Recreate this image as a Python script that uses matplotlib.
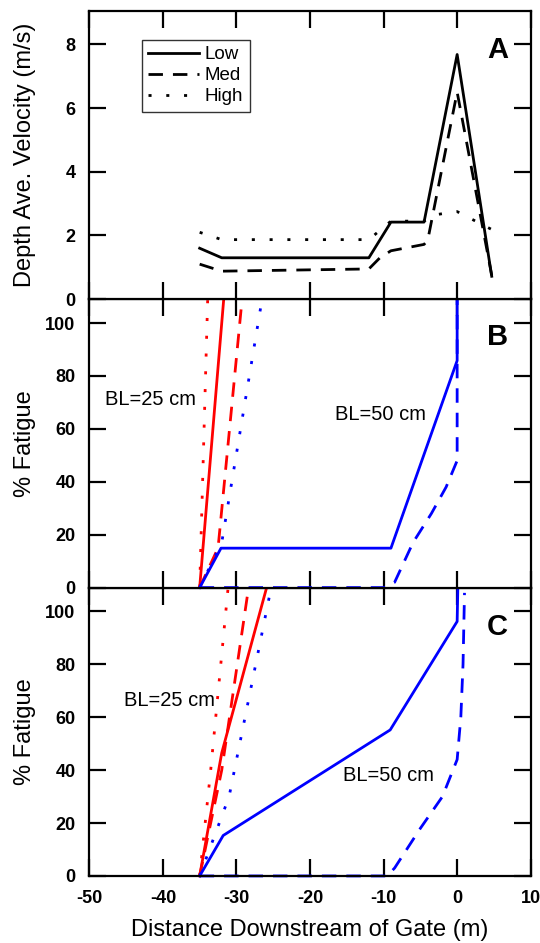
import matplotlib
matplotlib.use("Agg")
import matplotlib.pyplot as plt

plt.rcParams['font.family'] = ['Liberation Sans', 'DejaVu Sans']
plt.rcParams['axes.unicode_minus'] = False

# ---------------- panel A: depth averaged velocity ----------------
x_low = [-35, -32, -12, -9, -4.5, 0, 4.7]
v_low = [1.6, 1.3, 1.3, 2.42, 2.42, 7.68, 0.72]
x_med = [-35, -32, -12, -10.5, -9, -4.5, -4, 0, 4.7]
v_med = [1.1, 0.88, 0.95, 1.3, 1.52, 1.72, 1.85, 6.5, 0.75]
x_high = [-35, -32, -12, -9, -4.5, -3, 0, 4.6]
v_high = [2.1, 1.87, 1.87, 2.45, 2.45, 2.65, 2.75, 2.2]

# ---------------- panel B: % fatigue ----------------
b25_low_x = [-35, -31.7]
b25_low_y = [0, 110]
b25_med_x = [-35, -32.5, -29.2]
b25_med_y = [0, 15, 110]
b25_high_x = [-35, -33.9]
b25_high_y = [0, 110]
b50_low_x = [-35, -32.1, -9.0, 0, 0]
b50_low_y = [0, 14.9, 14.9, 85.8, 110]
b50_med_x = [-35, -10, -8.5, -6, -3.5, -1.5, 0, 0]
b50_med_y = [0, 0, 2, 17, 28, 38, 48, 110]
b50_high_x = [-35, -32, -26.7]
b50_high_y = [0, 17, 106]

# ---------------- panel C: % fatigue ----------------
c25_low_x = [-35, -32.0, -25.8]
c25_low_y = [0, 46.5, 110]
c25_med_x = [-35, -32.0, -28.3]
c25_med_y = [0, 40, 110]
c25_high_x = [-35, -33.5, -31.1]
c25_high_y = [0, 40, 110]
c50_low_x = [-35, -31.8, -9.1, 0, 0.1]
c50_low_y = [0, 15.3, 55.2, 96.2, 110]
c50_med_x = [-35, -9.5, -8.5, -5, -2, 0, 0.5, 0.8, 1.0]
c50_med_y = [0, 0, 3, 18, 30, 44, 60, 80, 107]
c50_high_x = [-35, -31, -25.5]
c50_high_y = [0, 30, 106]

dash = (0, (5.2, 3.6))
dots = (0, (1.1, 5.3))
lw = 2.0

fig = plt.figure(figsize=(5.4, 9.43), dpi=100)
L, W, H = 0.1654, 0.8174, 0.3058
axC = fig.add_axes([L, 0.0711, W, H])
axB = fig.add_axes([L, 0.0711 + H, W, H])
axA = fig.add_axes([L, 0.0711 + 2 * H, W, H])

for ax in (axA, axB, axC):
    ax.set_xlim(-50, 10)
    ax.set_xticks([-50, -40, -30, -20, -10, 0, 10])
    ax.tick_params(direction='in', length=12, width=1.6, top=True, right=True,
                   labelsize=13, pad=10)
    for lab in ax.get_xticklabels() + ax.get_yticklabels():
        lab.set_fontweight('bold')
    for s in ax.spines.values():
        s.set_linewidth(1.6)
    ax.yaxis.set_label_coords(-0.145, 0.5)

# A
axA.plot(x_low, v_low, color='black', lw=lw, label='Low')
axA.plot(x_med, v_med, color='black', lw=lw, linestyle=dash, label='Med')
axA.plot(x_high, v_high, color='black', lw=lw, linestyle=dots, label='High')
axA.set_ylim(0, 9.05)
axA.set_yticks([0, 2, 4, 6, 8])
axA.tick_params(labelbottom=False)
axA.set_ylabel('Depth Ave. Velocity (m/s)', fontsize=17, va='center')
leg = axA.legend(loc='upper left', bbox_to_anchor=(0.119, 0.90), fontsize=13.5,
                 frameon=True, fancybox=False, borderaxespad=0, handlelength=2.7,
                 handletextpad=0.3, labelspacing=0.2, borderpad=0.35)
leg.get_frame().set_edgecolor('black')
leg.get_frame().set_linewidth(1.0)
axA.text(0.925, 0.864, 'A', transform=axA.transAxes, fontsize=21,
         fontweight='bold', ha='center', va='center')

# B
axB.plot(b25_low_x, b25_low_y, color='red', lw=lw, clip_on=False)
axB.plot(b25_med_x, b25_med_y, color='red', lw=lw, linestyle=dash, clip_on=False)
axB.plot(b25_high_x, b25_high_y, color='red', lw=lw, linestyle=dots, clip_on=False)
axB.plot(b50_low_x, b50_low_y, color='blue', lw=lw, clip_on=False)
axB.plot(b50_med_x, b50_med_y, color='blue', lw=lw, linestyle=dash, clip_on=False)
axB.plot(b50_high_x, b50_high_y, color='blue', lw=lw, linestyle=dots, clip_on=False)
axB.set_ylim(0, 109)
axB.set_yticks([0, 20, 40, 60, 80, 100])
axB.tick_params(labelbottom=False)
axB.set_ylabel('% Fatigue', fontsize=17, va='center')
axB.text(-47.9, 71.2, 'BL=25 cm', fontsize=14.5, va='center')
axB.text(-16.6, 65.4, 'BL=50 cm', fontsize=14.5, va='center')
axB.text(0.925, 0.87, 'B', transform=axB.transAxes, fontsize=21,
         fontweight='bold', ha='center', va='center')

# C
axC.plot(c25_low_x, c25_low_y, color='red', lw=lw, clip_on=False)
axC.plot(c25_med_x, c25_med_y, color='red', lw=lw, linestyle=dash, clip_on=False)
axC.plot(c25_high_x, c25_high_y, color='red', lw=lw, linestyle=dots, clip_on=False)
axC.plot(c50_low_x, c50_low_y, color='blue', lw=lw, clip_on=False)
axC.plot(c50_med_x, c50_med_y, color='blue', lw=lw, linestyle=dash, clip_on=False)
axC.plot(c50_high_x, c50_high_y, color='blue', lw=lw, linestyle=dots, clip_on=False)
axC.set_ylim(0, 109)
axC.set_yticks([0, 20, 40, 60, 80, 100])
axC.set_ylabel('% Fatigue', fontsize=17, va='center')
axC.set_xlabel('Distance Downstream of Gate (m)', fontsize=17, va='center')
axC.xaxis.set_label_coords(0.5, -0.187)
axC.text(-45.3, 66.2, 'BL=25 cm', fontsize=14.5, va='center')
axC.text(-15.5, 37.8, 'BL=50 cm', fontsize=14.5, va='center')
axC.text(0.925, 0.864, 'C', transform=axC.transAxes, fontsize=21,
         fontweight='bold', ha='center', va='center')

fig.savefig('out.png', dpi=100)
